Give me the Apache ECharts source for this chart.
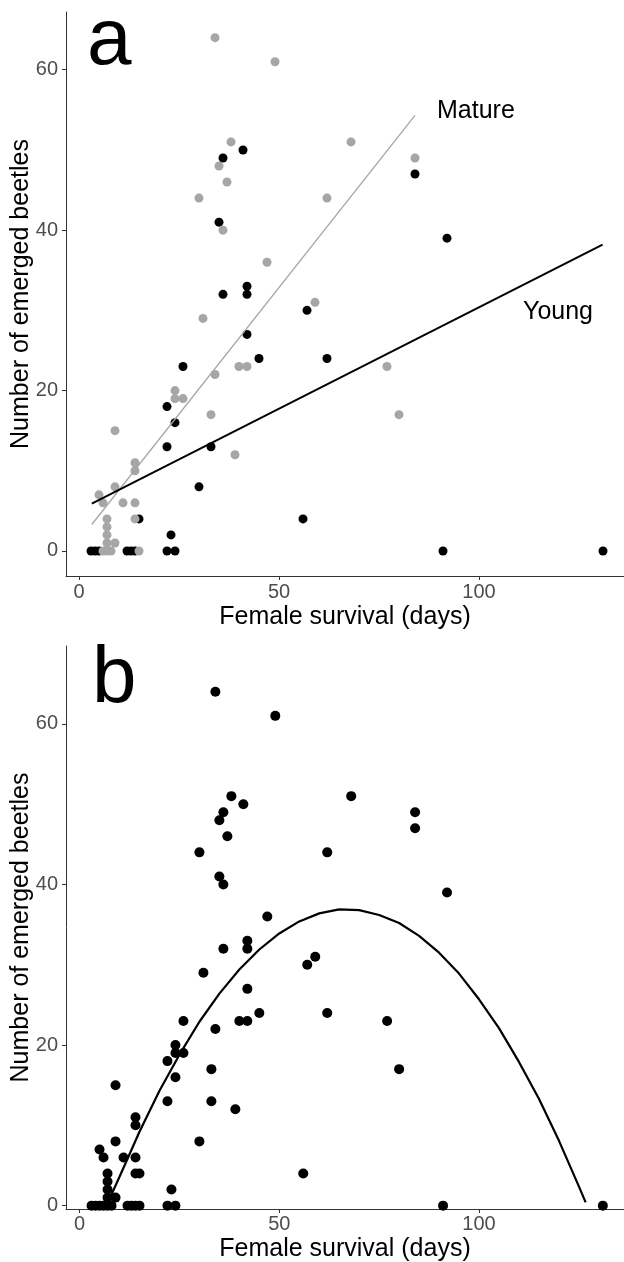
<!DOCTYPE html>
<html>
<head>
<meta charset="utf-8">
<script src="https://cdn.jsdelivr.net/npm/echarts@6/dist/echarts.min.js"></script>
<style>
html,body{margin:0;padding:0;background:#fff;}
#chart{width:624px;height:1262px;}
</style>
</head>
<body>
<div id="chart"></div>
<script>
// ---------- DATA ----------
const xTitle = 'Female survival (days)';
const yTitle = 'Number of emerged beetles';
const panelLabels = ['a', 'b'];
const groupLabels = ['Mature', 'Young'];
const xTickValues = [0, 50, 100];
const yTickValues = [0, 20, 40, 60];

// Young females (black points) [survival days, emerged beetles]
const youngPoints = [
  [36,49],[41,50],[35,41],[42,33],[36,32],[42,32],[57,30],[42,27],[45,24],[62,24],
  [84,47],[92,39],[26,23],[22,18],[24,16],[22,13],[33,13],[30,8],[15,4],[56,4],
  [23,2],[3,0],[4,0],[5,0],[12,0],[13,0],[14,0],[22,0],[24,0],[91,0],[131,0]
];
// Mature females (grey points)
const maturePoints = [
  [34,64],[49,61],[38,51],[35,48],[37,46],[30,44],[36,40],[47,36],[31,29],[62,44],
  [68,51],[84,49],[59,31],[77,23],[80,17],[40,23],[42,23],[34,22],[24,20],[24,19],
  [26,19],[33,17],[9,15],[39,12],[14,11],[14,10],[9,8],[5,7],[6,6],[11,6],
  [14,6],[14,4],[7,4],[7,3],[7,2],[7,1],[9,1],[6,0],[7,0],[8,0],[15,0]
];
// fitted straight lines in panel a (end points)
const youngFitX = [3.2, 130.9];
const youngFitY = [5.9, 38.2];
const matureFitX = [3.2, 84];
const matureFitY = [3.3, 54.3];
// fitted curve in panel b
const curveX = [7.9, 10, 15, 20, 25, 30, 35, 40, 45, 50, 55, 60, 65, 70, 75, 80, 85, 90, 95, 100, 105, 110, 115, 120, 125, 126.7];
const curveY = [1.3, 3.6, 9.2, 14.3, 18.8, 22.9, 26.4, 29.4, 31.9, 33.9, 35.4, 36.4, 36.9, 36.8, 36.2, 35.2, 33.6, 31.5, 28.9, 25.7, 22.1, 17.9, 13.3, 8.1, 2.4, 0.4];

// ---------- CHART ----------
const FONT = '"Liberation Sans", Arial, sans-serif';
const zip = (xs, ys) => xs.map((x, i) => [x, ys[i]]);
const allPoints = youngPoints.concat(maturePoints);

function xAxisCfg(gi, min, max, labelMargin, nameGap) {
  return {
    type: 'value', gridIndex: gi, min: min, max: max,
    splitLine: { show: false },
    axisLine: { onZero: false, lineStyle: { color: '#333', width: 1 } },
    axisTick: { show: true, length: 4, customValues: xTickValues, lineStyle: { color: '#333', width: 1 } },
    axisLabel: { customValues: xTickValues, fontSize: 20, color: '#4d4d4d', margin: labelMargin, fontFamily: FONT },
    name: xTitle, nameLocation: 'middle', nameGap: nameGap, nameMoveOverlap: false,
    nameTextStyle: { fontSize: 25, color: '#000', fontFamily: FONT }
  };
}
function yAxisCfg(gi, min, max) {
  return {
    type: 'value', gridIndex: gi, min: min, max: max,
    splitLine: { show: false },
    axisLine: { onZero: false, lineStyle: { color: '#333', width: 1 } },
    axisTick: { show: true, length: 4, customValues: yTickValues, lineStyle: { color: '#333', width: 1 } },
    axisLabel: { customValues: yTickValues, fontSize: 20, color: '#4d4d4d', margin: 8, fontFamily: FONT },
    name: yTitle, nameLocation: 'middle', nameGap: 32, nameMoveOverlap: false,
    nameTextStyle: { fontSize: 25, color: '#000', fontFamily: FONT }
  };
}

const option = {
  animation: false,
  backgroundColor: '#fff',
  grid: [
    { left: 66, top: 12, width: 558, height: 564, outerBoundsMode: 'none', containLabel: false },
    { left: 66, top: 646, width: 558, height: 563, outerBoundsMode: 'none', containLabel: false }
  ],
  xAxis: [
    xAxisCfg(0, -3.25, 136.25, 6, 29),
    xAxisCfg(1, -3.4, 136.3, 5, 28)
  ],
  yAxis: [
    yAxisCfg(0, -3.12, 67.2),
    yAxisCfg(1, -0.42, 69.7)
  ],
  graphic: [
    { type: 'text', left: 87, top: 2, style: { text: panelLabels[0], font: '80px ' + FONT, fill: '#000' } },
    { type: 'text', left: 92, top: 640, style: { text: panelLabels[1], font: '80px ' + FONT, fill: '#000' } },
    { type: 'text', left: 437, top: 99, style: { text: groupLabels[0], font: '25px ' + FONT, fill: '#000' } },
    { type: 'text', left: 523, top: 300, style: { text: groupLabels[1], font: '25px ' + FONT, fill: '#000' } }
  ],
  series: [
    {
      type: 'scatter', xAxisIndex: 0, yAxisIndex: 0, data: youngPoints,
      symbolSize: 9, clip: false, itemStyle: { color: '#000', opacity: 1 }, z: 2
    },
    {
      type: 'scatter', xAxisIndex: 0, yAxisIndex: 0, data: maturePoints,
      symbolSize: 9, clip: false, itemStyle: { color: '#a6a6a6', opacity: 1 }, z: 3
    },
    {
      type: 'line', xAxisIndex: 0, yAxisIndex: 0, data: zip(matureFitX, matureFitY),
      showSymbol: false, symbol: 'none', lineStyle: { color: '#a6a6a6', width: 1.3 }, z: 4
    },
    {
      type: 'line', xAxisIndex: 0, yAxisIndex: 0, data: zip(youngFitX, youngFitY),
      showSymbol: false, symbol: 'none', lineStyle: { color: '#000', width: 2 }, z: 5
    },
    {
      type: 'scatter', xAxisIndex: 1, yAxisIndex: 1, data: allPoints,
      symbolSize: 10, clip: false, itemStyle: { color: '#000', opacity: 1 }, z: 2
    },
    {
      type: 'line', xAxisIndex: 1, yAxisIndex: 1, data: zip(curveX, curveY),
      showSymbol: false, symbol: 'none', smooth: false, lineStyle: { color: '#000', width: 2.2 }, z: 5
    }
  ]
};

const chart = echarts.init(document.getElementById('chart'), null, { renderer: 'canvas' });
chart.setOption(option);
</script>
</body>
</html>
